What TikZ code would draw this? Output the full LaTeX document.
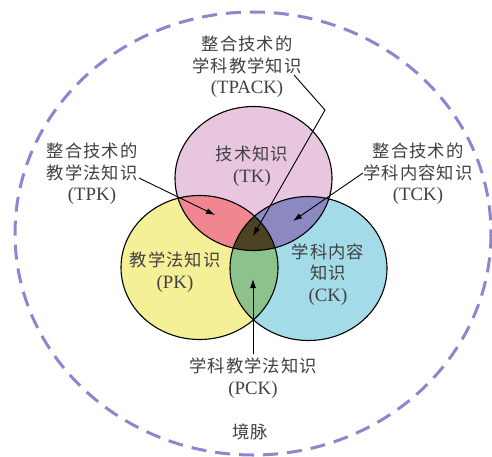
\documentclass[tikz,border=0pt]{standalone}
\usepackage{fontspec}
\setmainfont{Liberation Serif}
\newfontfamily\cjk[Scale=0.92,LetterSpace=6]{Noto Sans CJK SC}
\usepackage{xcolor}
\definecolor{tkpink}{HTML}{E8C6DF}
\definecolor{pkyellow}{HTML}{F5F097}
\definecolor{ckcyan}{HTML}{A3DCE8}
\definecolor{tpkred}{HTML}{F0868F}
\definecolor{tckpurple}{HTML}{8B88C2}
\definecolor{pckgreen}{HTML}{8CC38C}
\definecolor{tpackdark}{HTML}{4B4322}
\definecolor{ctxblue}{HTML}{8A87CF}
\usetikzlibrary{arrows.meta,positioning}
\tikzset{
  lab/.style={align=center, text=black!75, inner sep=0pt,
    font=\fontsize{18.8}{21.5}\selectfont},
  ring/.style={draw=black, line width=1.1pt},
  line/.style={draw, line width=0.9pt, -{Latex[length=9pt,width=6pt]}},
  ctx/.style={draw=ctxblue, line width=3pt, dash pattern=on 15pt off 9pt},
}

\begin{document}
\begin{tikzpicture}[x=1pt, y=-1pt]
  \useasboundingbox (0,0) rectangle (492,457);

  % centres
  \coordinate (tk) at (253.5,178.5);
  \coordinate (pk) at (199.5,267.5);
  \coordinate (ck) at (308.5,268.5);
  \def\rx{78.5}
  \def\ry{72}

  % context
  \draw[ctx] (253,233.5) ellipse [x radius=238, y radius=221.5];

  % circles
  \fill[tkpink] (tk) ellipse [x radius=\rx, y radius=\ry];
  \fill[pkyellow] (pk) ellipse [x radius=\rx, y radius=\ry];
  \fill[ckcyan] (ck) ellipse [x radius=\rx, y radius=\ry];
  % pairwise overlaps
  \begin{scope}
    \clip (tk) ellipse [x radius=\rx, y radius=\ry];
    \fill[tpkred] (pk) ellipse [x radius=\rx, y radius=\ry];
    \fill[tckpurple] (ck) ellipse [x radius=\rx, y radius=\ry];
  \end{scope}
  \begin{scope}
    \clip (pk) ellipse [x radius=\rx, y radius=\ry];
    \fill[pckgreen] (ck) ellipse [x radius=\rx, y radius=\ry];
    %triple overlap
    \clip (ck) ellipse [x radius=\rx, y radius=\ry];
    \fill[tpackdark] (tk) ellipse [x radius=\rx, y radius=\ry];
  \end{scope}
  \draw[ring] (tk) ellipse [x radius=\rx, y radius=\ry];
  \draw[ring] (pk) ellipse [x radius=\rx, y radius=\ry];
  \draw[ring] (ck) ellipse [x radius=\rx, y radius=\ry];

  % circle labels
  \node[lab] (tklab) at (252,166) {{\cjk 技术知识}\\(TK)};
  \node[lab] (pklab) at (175,272) {{\cjk 教学法知识}\\(PK)};
  \node[lab] (cklab) at (328,274.5) {{\cjk 学科内容}\\{\cjk 知识}\\(CK)};

  % outer labels
  \node[lab] (tpack) at (247,67) {{\cjk 整合技术的}\\{\cjk 学科教学知识}\\(TPACK)};
  \node[lab] (tpk) at (92,174) {{\cjk 整合技术的}\\{\cjk 教学法知识}\\(TPK)};
  \node[lab] (tck) at (418,174) {{\cjk 整合技术的}\\{\cjk 学科内容知识}\\(TCK)};
  \node[lab] (pck) at (253,378) {{\cjk 学科教学法知识}\\(PCK)};
  \node[lab] (context) at (250,432) {\cjk 境脉};

  % arrow ends
  \coordinate (tpack-s) at (294,75);
  \coordinate (tpack-k) at (325,110);
  \coordinate (tpack-e) at (253,236);
  \coordinate (tpk-s) at (139,178);
  \coordinate (tpk-e) at (215,215);
  \coordinate (tck-s) at (363,173);
  \coordinate (tck-e) at (293,221);
  \coordinate (pck-s) at (253,354);
  \coordinate (pck-e) at (253,279);

  \draw[line] (tpack-s) -- (tpack-k) -- (tpack-e);
  \draw[line] (tpk-s) -- (tpk-e);
  \draw[line] (tck-s) -- (tck-e);
  \draw[line] (pck-s) -- (pck-e);
\end{tikzpicture}
\end{document}
